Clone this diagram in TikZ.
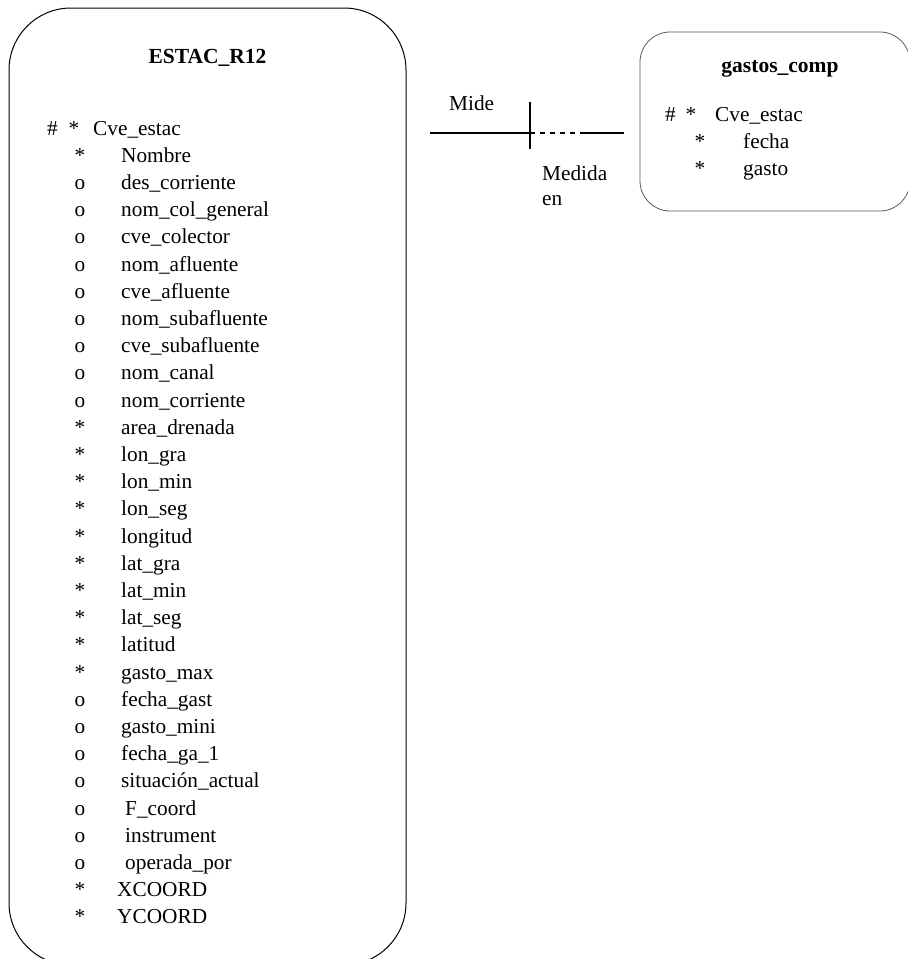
\documentclass[tikz,border=0pt]{standalone}
\usepackage{fontspec}
\setmainfont{Liberation Serif}
\usetikzlibrary{positioning}

\begin{document}
\begin{tikzpicture}[
  x=1pt,y=-1pt,
  font=\fontsize{21.3}{27}\selectfont,
  entity/.style={draw,rectangle,line width=1pt},
  title/.style={font=\fontsize{21.5}{27}\selectfont\bfseries,inner sep=0pt,anchor=base},
  attr/.style={inner sep=0pt,anchor=base west},
  flag/.style={inner sep=0pt,anchor=base},
  rel/.style={line width=1.1pt}
]
\useasboundingbox (0,0) rectangle (908,959);

% entities
\node[entity,rounded corners=62pt,minimum width=397pt,minimum height=957pt] (estac) at (207.5,486.5) {};
\node[entity,draw=black!65,line width=0.8pt,rounded corners=30pt,minimum width=270pt,minimum height=179pt] (gastos) at (775,121.5) {};

% ESTAC_R12
\node[title] (estacT) at (207.5,63) {ESTAC\_R12};
\node[attr] (estacH) at (47,135) {\#};
\node[flag] (estacS) at (74,135) {*};
\node[attr] (estacK) at (93,135) {Cve\_estac};
\foreach \mk/\nm [count=\i] in {*/Nombre,o/des\_corriente,o/nom\_col\_general,o/cve\_colector,
  o/nom\_afluente,o/cve\_afluente,o/nom\_subafluente,o/cve\_subafluente,o/nom\_canal,
  o/nom\_corriente,*/area\_drenada,*/lon\_gra,*/lon\_min,*/lon\_seg,*/longitud,*/lat\_gra,
  */lat\_min,*/lat\_seg,*/latitud,*/gasto\_max,o/fecha\_gast,o/gasto\_mini,o/fecha\_ga\_1,
  o/situación\_actual,o/\kern4pt F\_coord,o/\kern4pt instrument,o/\kern4pt operada\_por,
  */\kern-4pt XCOORD,*/\kern-4pt YCOORD}
  {\node[flag] (estacM\i) at (80,135+27.2*\i) {\mk};
   \node[attr] (estacA\i) at (121,135+27.2*\i) {\nm};}

% gastos_comp
\node[title] (gastosT) at (780,72) {gastos\_comp};
\node[attr] (gastosH) at (665,121) {\#};
\node[flag] (gastosS) at (691,121) {*};
\node[attr] (gastosK) at (715,121) {Cve\_estac};
\node[flag] (gastosM1) at (700,148) {*};
\node[attr] (gastosA1) at (743,148) {fecha};
\node[flag] (gastosM2) at (700,175) {*};
\node[attr] (gastosA2) at (743,175) {gasto};

% relationship
\coordinate (relL) at ([xshift=23pt]estac.east |- 0,133);
\coordinate (relM) at (530,133);
\coordinate (relD) at (585,133);
\coordinate (relR) at ([xshift=-16pt]gastos.west |- 0,133);
\draw[rel] (relL) -- (relM);
\draw[rel] ([yshift=31pt]relM) -- ([yshift=-16pt]relM);
\draw[rel,dash pattern=on 5pt off 5pt] (relM) -- (relD);
\draw[rel] (relD) -- (relR);
\node[attr] (mide) at (449,110) {Mide};
\node[attr] (medida) at (542,180) {Medida};
\node[attr] (medidaEn) at (542,205) {en};
\end{tikzpicture}
\end{document}
